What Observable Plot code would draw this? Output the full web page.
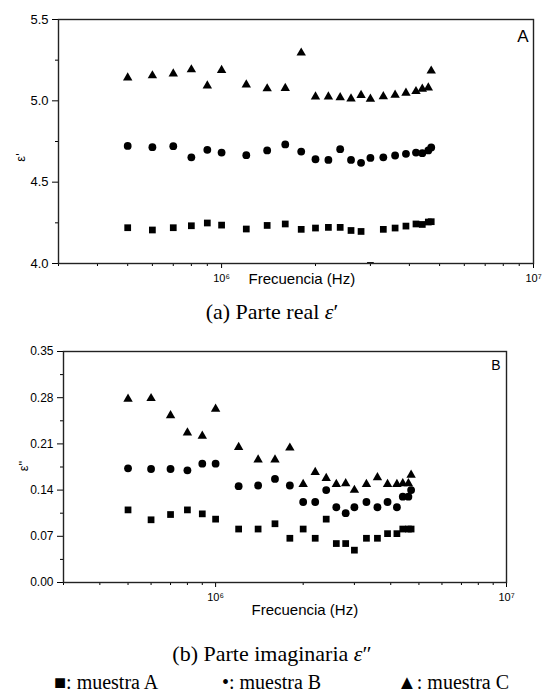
<!DOCTYPE html>
<html><head><meta charset="utf-8">
<script src="https://cdn.jsdelivr.net/npm/d3@7"></script>
<script src="https://cdn.jsdelivr.net/npm/@observablehq/plot@0.6"></script>
<style>
body{margin:0;background:#fff;}
#wrap{position:relative;width:544px;height:700px;overflow:hidden;background:#fff;}
.abs{position:absolute;}
.cap{position:absolute;left:0;width:544px;text-align:center;font-family:"Liberation Serif","Times New Roman",serif;font-size:22px;line-height:22px;color:#000;white-space:nowrap;}
.leg{position:absolute;font-family:"Liberation Serif","Times New Roman",serif;font-size:20px;line-height:20px;color:#000;white-space:nowrap;}
</style></head><body>
<div id="wrap">
  <div id="pa" class="abs" style="left:0;top:0"></div>
  <div class="cap" style="top:301px">(a) Parte real <i>ε</i>′</div>
  <div id="pb" class="abs" style="left:0;top:330px"></div>
  <div class="cap" style="top:643px">(b) Parte imaginaria <i>ε</i>″</div>
  <div id="legend"></div>
</div>
<script>
// Frequencies (Hz)
const freq = [5e5, 6e5, 7e5, 8e5, 9e5, 1e6, 1.2e6, 1.4e6, 1.6e6, 1.8e6, 2.0e6, 2.2e6, 2.4e6, 2.6e6, 2.8e6, 3.0e6, 3.3e6, 3.6e6, 3.9e6, 4.2e6, 4.4e6, 4.6e6, 4.7e6];

// Real part ε'
const realA = [4.220, 4.206, 4.220, 4.232, 4.249, 4.236, 4.212, 4.234, 4.243, 4.210, 4.218, 4.222, 4.222, 4.203, 4.197, 3.988, 4.210, 4.218, 4.230, 4.243, 4.240, 4.255, 4.257];
const realB = [4.723, 4.715, 4.721, 4.653, 4.699, 4.682, 4.666, 4.695, 4.732, 4.688, 4.641, 4.637, 4.703, 4.637, 4.619, 4.649, 4.653, 4.664, 4.674, 4.682, 4.678, 4.695, 4.713];
const realC = [5.142, 5.155, 5.167, 5.192, 5.093, 5.188, 5.099, 5.075, 5.077, 5.295, 5.025, 5.025, 5.021, 5.013, 5.034, 5.011, 5.027, 5.036, 5.048, 5.058, 5.073, 5.081, 5.184];

// Imaginary part ε''
const imagA = [0.110, 0.095, 0.103, 0.110, 0.104, 0.096, 0.081, 0.081, 0.089, 0.067, 0.081, 0.067, 0.096, 0.059, 0.059, 0.049, 0.067, 0.067, 0.074, 0.074, 0.081, 0.081, 0.081];
const imagB = [0.173, 0.172, 0.172, 0.170, 0.180, 0.180, 0.146, 0.147, 0.157, 0.147, 0.122, 0.122, 0.140, 0.114, 0.105, 0.114, 0.122, 0.114, 0.122, 0.114, 0.130, 0.130, 0.140];
const imagC = [0.278, 0.279, 0.253, 0.227, 0.222, 0.263, 0.205, 0.186, 0.186, 0.204, 0.149, 0.167, 0.158, 0.149, 0.150, 0.140, 0.149, 0.159, 0.149, 0.149, 0.150, 0.150, 0.163];

// Ticks
const xMajor = [1e6, 1e7];
const xMajorLabels = ["10⁶", "10⁷"];
const xMinor = [3e5, 4e5, 5e5, 6e5, 7e5, 8e5, 9e5, 2e6, 3e6, 4e6, 5e6, 6e6, 7e6, 8e6, 9e6];
const yTicksReal = [4.0, 4.5, 5.0, 5.5];
const yMinorReal = [4.25, 4.75, 5.25];
const yTicksImag = [0.00, 0.07, 0.14, 0.21, 0.28, 0.35];
const yMinorImag = [0.035, 0.105, 0.175, 0.245, 0.315];

const sampleNames = ["muestra A", "muestra B", "muestra C"];
const legendGlyphs = ["■", "•", "▲"];
const panelTags = ["A", "B"];
const xLabel = "Frecuencia (Hz)";

const rows = (vals) => freq.map((f, i) => ({f, v: vals[i]}));
const sans = "'Liberation Sans', Arial, Helvetica, sans-serif";

function panel(o) {
  return Plot.plot({
    width: 544, height: o.height,
    marginLeft: o.marginLeft, marginRight: o.marginRight, marginTop: o.marginTop, marginBottom: o.marginBottom,
    x: {type: "log", domain: [3e5, 1e7]},
    y: {domain: o.yDomain},
    style: {fontFamily: sans, color: "#000", background: "transparent", overflow: "visible"},
    marks: [
      Plot.axisY(o.yTicks, {tickSize: 6, tickPadding: 4, tickFormat: o.yFmt, fontSize: o.yFont, label: null}),
      Plot.axisY(o.yMinor, {tickSize: 3, tickFormat: () => "", label: null}),
      Plot.axisX(xMajor, {tickSize: 5, tickPadding: o.xPad, tickFormat: (d) => xMajorLabels[xMajor.indexOf(d)], fontSize: o.xFont, label: null}),
      Plot.axisX(xMinor, {tickSize: 3, tickFormat: () => "", label: null}),
      Plot.dot(rows(o.a), {x: "f", y: "v", symbol: "square", r: 3.8, fill: "#000", clip: true}),
      Plot.dot(rows(o.b), {x: "f", y: "v", symbol: "circle", r: 3.9, fill: "#000", clip: true}),
      Plot.dot(rows(o.c), {x: "f", y: "v", symbol: "triangle", r: 3.5, fill: "#000", clip: true}),
      Plot.frame({stroke: "#222", strokeWidth: 1.4}),
      Plot.text([o.tag], {text: d => d, frameAnchor: "top-right", textAnchor: "end", lineAnchor: "top", dx: o.tagDx, dy: o.tagDy, fontSize: o.tagFont}),
      Plot.text([xLabel], {text: d => d, frameAnchor: "bottom-left", textAnchor: "start", lineAnchor: "bottom", dx: o.xlDx, dy: o.xlDy, fontSize: 15}),
      Plot.text([o.ylab], {text: d => d, frameAnchor: "left", textAnchor: "middle", lineAnchor: "middle", rotate: -90, dx: o.ylDx, dy: o.ylDy, fontSize: 13})
    ]
  });
}

document.getElementById("pa").append(panel({
  height: 292, marginLeft: 58, marginRight: 11, marginTop: 19, marginBottom: 29,
  yDomain: [4.0, 5.5], yTicks: yTicksReal, yMinor: yMinorReal, yFmt: d3.format(".1f"), yFont: 13,
  xPad: 6, xFont: 11,
  a: realA, b: realB, c: realC,
  tag: panelTags[0], tagDx: -5, tagDy: 10, tagFont: 17,
  xlDx: 190, xlDy: 20,
  ylab: "ε'", ylDx: -38, ylDy: 16
}));

document.getElementById("pb").append(panel({
  height: 292, marginLeft: 63, marginRight: 38, marginTop: 21, marginBottom: 40,
  yDomain: [0, 0.35], yTicks: yTicksImag, yMinor: yMinorImag, yFmt: d3.format(".2f"), yFont: 12,
  xPad: 6, xFont: 11,
  a: imagA, b: imagB, c: imagC,
  tag: panelTags[1], tagDx: -6, tagDy: 9, tagFont: 14,
  xlDx: 188, xlDy: 32,
  ylab: "ε\"", ylDx: -40, ylDy: -1
}));

const legendX = [54, 222, 397];
const leg = document.getElementById("legend");
sampleNames.forEach((n, i) => {
  const d = document.createElement("div");
  d.className = "leg";
  d.style.left = legendX[i] + "px";
  d.style.top = "672px";
  d.textContent = legendGlyphs[i] + ": " + n;
  leg.append(d);
});
</script>
</body></html>
